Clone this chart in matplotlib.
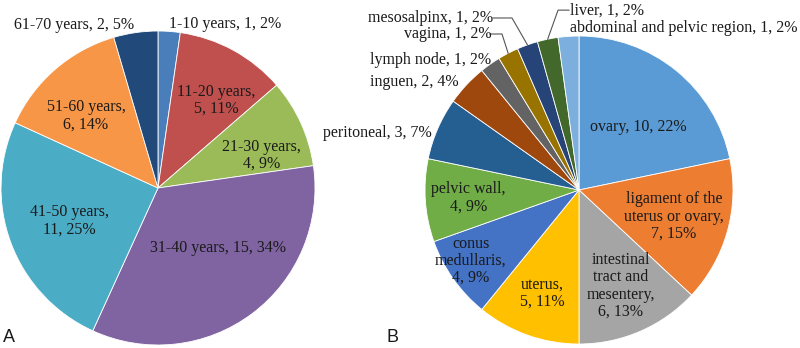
import numpy as np
import matplotlib
matplotlib.use("Agg")
import matplotlib.pyplot as plt

# panel A: age groups
age_labels = ["1-10 years", "11-20 years", "21-30 years", "31-40 years",
              "41-50 years", "51-60 years", "61-70 years"]
age_counts = [1, 5, 4, 15, 11, 6, 2]
age_pct = [2, 11, 9, 34, 25, 14, 5]

# panel B: sites
site_labels = ["ovary", "ligament of the uterus or ovary", "intestinal tract and mesentery",
               "uterus", "conus medullaris", "pelvic wall", "peritoneal", "inguen",
               "lymph node", "vagina", "mesosalpinx", "liver",
               "abdominal and pelvic region"]
site_counts = [10, 7, 6, 5, 4, 4, 3, 2, 1, 1, 1, 1, 1]
site_pct = [22, 15, 13, 11, 9, 9, 7, 4, 2, 2, 2, 2, 2]

age_colors = ["#4a7ebb", "#c0504d", "#9bbb59", "#8064a2", "#4bacc6", "#f79646", "#214a7a"]
site_colors = ["#5b9bd5", "#ed7d31", "#a5a5a5", "#ffc000", "#4472c4", "#70ad47",
               "#255e91", "#9e480e", "#636363", "#997300", "#264478", "#43682b", "#7cafdd"]

serif = "Liberation Serif"
fs = 11.5
tcol = "#1a1a1a"


def mid_angles(values):
    v = np.asarray(values, dtype=float)
    c = np.cumsum(v) - v / 2
    return 90 - c / v.sum() * 360


def draw_pie(ax, values, colors):
    ax.pie(values, colors=colors, startangle=90, counterclock=False,
           wedgeprops=dict(edgecolor="white", linewidth=0.6))
    ax.set_xlim(-1, 1)
    ax.set_ylim(-1, 1)
    ax.set_aspect("equal")
    ax.axis("off")


def polar(r, a):
    t = np.deg2rad(a)
    return r * np.cos(t), r * np.sin(t)


fig = plt.figure(figsize=(8, 3.48), dpi=100)

# left pie
axA = fig.add_axes([0 / 800, (348 - 188 - 157) / 348, 316 / 800, 314 / 348])
draw_pie(axA, age_counts, age_colors)
age_text = ["{}, {}, {}%".format(l, n, p) for l, n, p in zip(age_labels, age_counts, age_pct)]
for i in [1, 2, 4, 5]:
    age_text[i] = "{},\n{}, {}%".format(age_labels[i], age_counts[i], age_pct[i])
age_r = [1.13, 0.67, 0.69, 0.54, 0.60, 0.65, 1.17]
age_off = [-18, -5, -7, 8, 0, 4, 19]
for txt, a, r, o in zip(age_text, mid_angles(age_counts), age_r, age_off):
    x, y = polar(r, a + o)
    axA.text(x, y, txt, ha="center", va="center", fontsize=fs, family=serif,
             color=tcol, linespacing=1.1, clip_on=False)

# right pie
axB = fig.add_axes([425 / 800, (348 - 190 - 154) / 348, 308 / 800, 308 / 348])
draw_pie(axB, site_counts, site_colors)
site_text = ["{}, {}, {}%".format(l, n, p) for l, n, p in zip(site_labels, site_counts, site_pct)]
site_text[1] = "ligament of the\nuterus or ovary,\n7, 15%"
site_text[2] = "intestinal\ntract and\nmesentery,\n6, 13%"
site_text[3] = "uterus,\n5, 11%"
site_text[4] = "conus\nmedullaris,\n4, 9%"
site_text[5] = "pelvic wall,\n4, 9%"
site_ang = mid_angles(site_counts)

inside_r = [0.56, 0.64, 0.68, 0.71, 0.84, 0.72]
inside_off = [-4, 0, 0, 0, -2, 0]
for i in range(6):
    x, y = polar(inside_r[i], site_ang[i] + inside_off[i])
    axB.text(x, y, site_text[i], ha="center", va="center", fontsize=fs, family=serif,
             color=tcol, linespacing=1.1, clip_on=False)

# outside labels (left edge x, centre y in radius units)
outside_pos = {6: (-1.662, 0.370), 7: (-1.357, 0.701), 8: (-1.357, 0.844),
               9: (-1.136, 1.013), 10: (-1.370, 1.117), 11: (-0.058, 1.162),
               12: (-0.058, 1.052)}
for i, (x, y) in outside_pos.items():
    axB.text(x, y, site_text[i], ha="left", va="center", fontsize=fs, family=serif,
             color=tcol, clip_on=False)

# leader lines: slice edge -> elbow -> label
leaders = {9: ((-0.50, 1.013), (-0.578, 1.013)),
           10: ((-0.435, 1.117), (-0.558, 1.117)),
           11: ((-0.136, 1.168), (-0.065, 1.168))}
for i, (elbow, end) in leaders.items():
    ex, ey = polar(1.0, site_ang[i])
    axB.plot([ex, elbow[0], end[0]], [ey, elbow[1], end[1]], color="#555555",
             lw=0.8, clip_on=False)

fig.text(9 / 800, 1 - 338 / 348, "A", fontsize=13, family="Liberation Sans",
         ha="center", va="center", color=tcol)
fig.text(393 / 800, 1 - 338 / 348, "B", fontsize=13, family="Liberation Sans",
         ha="center", va="center", color=tcol)

fig.savefig("out.png", dpi=100, facecolor="white")
